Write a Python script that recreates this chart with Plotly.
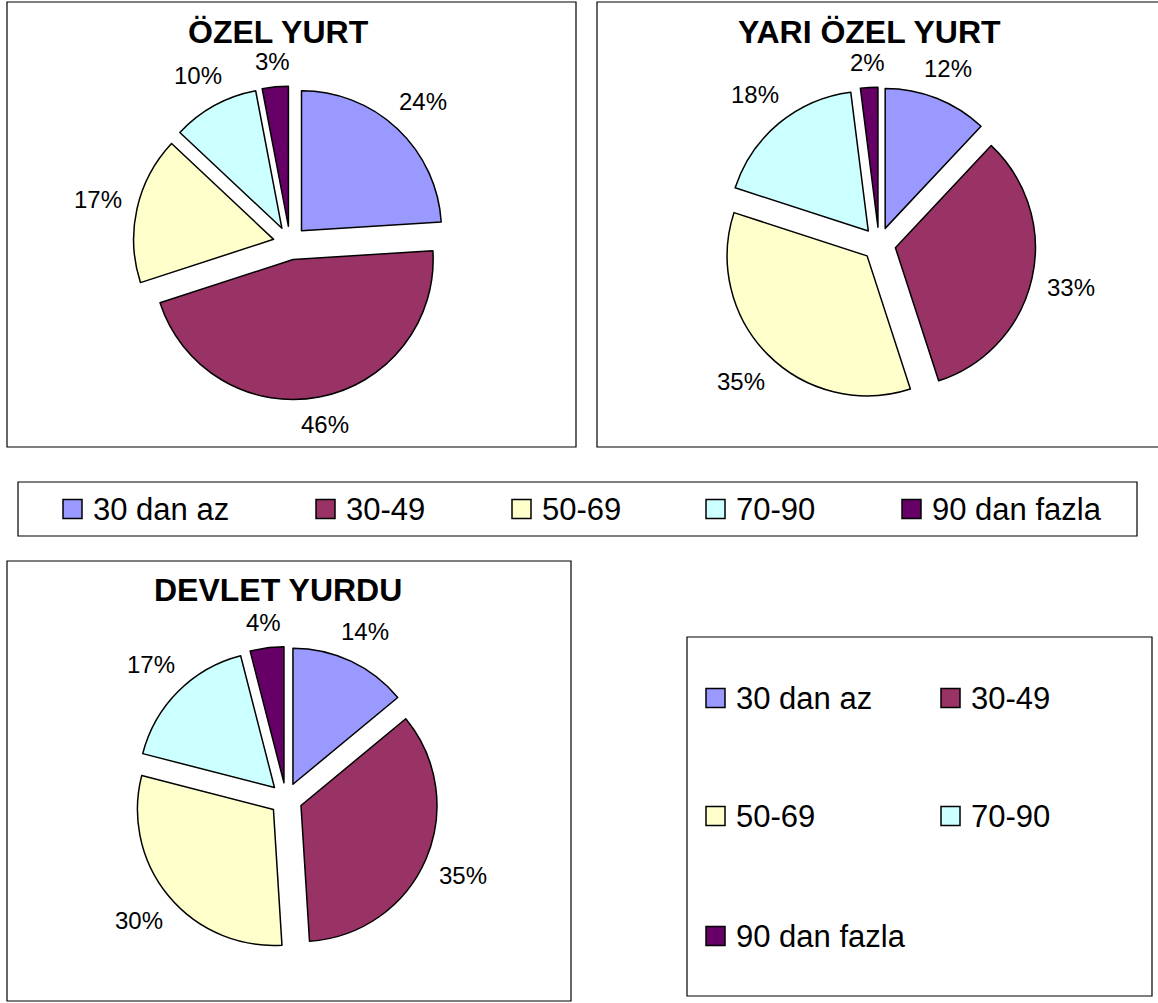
import math
import plotly.graph_objects as go

W, H = 1158, 1003

categories = ["30 dan az", "30-49", "50-69", "70-90", "90 dan fazla"]
colors = ["#9999FF", "#993366", "#FFFFCC", "#CCFFFF", "#660066"]

titles = ["ÖZEL YURT", "YARI ÖZEL YURT", "DEVLET YURDU"]
ozel_yurt = [24, 46, 17, 10, 3]
yari_ozel_yurt = [12, 33, 35, 18, 2]
devlet_yurdu = [14, 35, 30, 17, 4]
series = [ozel_yurt, yari_ozel_yurt, devlet_yurdu]

FONT = "Liberation Sans, Arial, sans-serif"
LABEL_SIZE = 24

def X(px):
    return px / W

def Y(py):
    return 1 - py / H

# layout: pie centers / radius (px), frames, title centers
pie_layout = [
    dict(cx=290, cy=243, r=140, frame=(7, 2, 576, 447), title=(278, 32)),
    dict(cx=879, cy=244, r=140, frame=(597, 2, 1160, 447), title=(869, 32)),
    dict(cx=286, cy=799, r=136, frame=(7, 561, 571, 1001), title=(278, 590)),
]
PULL = 0.12
GAP = 15

fig = go.Figure()
shapes = []
annotations = []

for vals, title, lay in zip(series, titles, pie_layout):
    half = lay["r"] * (1 + PULL)
    fig.add_trace(go.Pie(
        labels=categories,
        values=vals,
        sort=False,
        direction="clockwise",
        rotation=0,
        pull=[PULL] * len(vals),
        marker=dict(colors=colors, line=dict(color="black", width=1.5)),
        textinfo="none",
        showlegend=False,
        hoverinfo="label+value+percent",
        domain=dict(x=[X(lay["cx"] - half), X(lay["cx"] + half)],
                    y=[Y(lay["cy"] + half), Y(lay["cy"] - half)]),
    ))
    # percentage labels placed outside each slice (derived from the values)
    total = float(sum(vals))
    cum = 0.0
    for v in vals:
        frac = v / total
        mid = (cum + frac / 2) * 2 * math.pi
        cum += frac
        dx, dy = math.sin(mid), math.cos(mid)
        txt = "%d%%" % round(frac * 100)
        hw = 0.556 * LABEL_SIZE * (len(txt) - 1) / 2 + 0.889 * LABEL_SIZE / 2
        hh = 0.36 * LABEL_SIZE
        dist = lay["r"] * (1 + PULL) + GAP + abs(dx) * hw + abs(dy) * hh
        annotations.append(dict(text=txt, xref="paper", yref="paper",
                                x=X(lay["cx"] + dx * dist), y=Y(lay["cy"] - dy * dist),
                                xanchor="center", yanchor="middle", showarrow=False,
                                font=dict(family=FONT, size=LABEL_SIZE, color="black")))
    x0, y0, x1, y1 = lay["frame"]
    shapes.append(dict(type="rect", xref="paper", yref="paper",
                       x0=X(x0), x1=X(x1), y0=Y(y1), y1=Y(y0),
                       line=dict(color="black", width=1.2), fillcolor="rgba(0,0,0,0)"))
    annotations.append(dict(text="<b>%s</b>" % title, xref="paper", yref="paper",
                            x=X(lay["title"][0]), y=Y(lay["title"][1]),
                            xanchor="center", yanchor="middle", showarrow=False,
                            font=dict(family=FONT, size=32, color="black")))

# legend boxes
legend_frames = [(18, 482, 1137, 536), (687, 637, 1152, 996)]
for x0, y0, x1, y1 in legend_frames:
    shapes.append(dict(type="rect", xref="paper", yref="paper",
                       x0=X(x0), x1=X(x1), y0=Y(y1), y1=Y(y0),
                       line=dict(color="black", width=1.2), fillcolor="white", layer="below"))

# legend item positions (square left x, center y)
legend1_pos = [(63, 509), (316, 509), (512, 509), (706, 509), (902, 509)]
legend2_pos = [(706, 698), (941, 698), (706, 816), (941, 816), (706, 936)]
SQ = 19
for positions in (legend1_pos, legend2_pos):
    for cat, col, (sx, sy) in zip(categories, colors, positions):
        shapes.append(dict(type="rect", xref="paper", yref="paper",
                           x0=X(sx), x1=X(sx + SQ), y0=Y(sy + SQ / 2), y1=Y(sy - SQ / 2),
                           line=dict(color="black", width=1.5), fillcolor=col))
        annotations.append(dict(text=cat, xref="paper", yref="paper",
                                x=X(sx + SQ + 9), y=Y(sy), xanchor="left", yanchor="middle",
                                showarrow=False,
                                font=dict(family=FONT, size=31, color="black")))

fig.update_layout(
    width=W, height=H,
    margin=dict(l=0, r=0, t=0, b=0),
    paper_bgcolor="white",
    plot_bgcolor="white",
    shapes=shapes,
    annotations=annotations,
    font=dict(family=FONT, color="black"),
)

fig.write_html(
    "out.html",
    config={"displayModeBar": False},
    post_script="document.body.style.margin='0';document.body.style.overflow='hidden';",
)
